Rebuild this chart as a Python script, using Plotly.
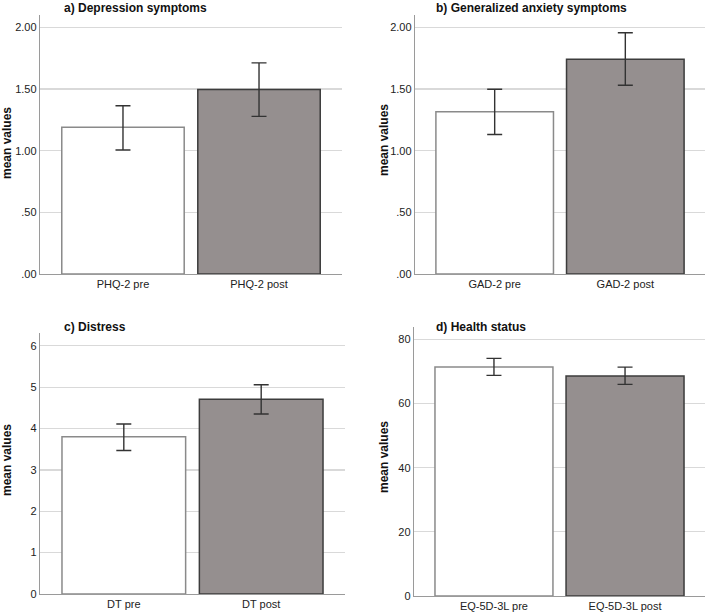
import plotly.graph_objects as go

W, H = 709, 615

# ---- data ----
titles = ["a) Depression symptoms", "b) Generalized anxiety symptoms", "c) Distress", "d) Health status"]
cats_a = ["PHQ-2 pre", "PHQ-2 post"]
cats_b = ["GAD-2 pre", "GAD-2 post"]
cats_c = ["DT pre", "DT post"]
cats_d = ["EQ-5D-3L pre", "EQ-5D-3L post"]

mean_a = [1.19, 1.495]
lo_a = [1.006, 1.278]
hi_a = [1.364, 1.712]

mean_b = [1.315, 1.742]
lo_b = [1.131, 1.531]
hi_b = [1.498, 1.956]

mean_c = [3.80, 4.71]
lo_c = [3.47, 4.35]
hi_c = [4.11, 5.06]

mean_d = [71.4, 68.6]
lo_d = [68.8, 66.0]
hi_d = [74.1, 71.4]

ticks_top = [0, 0.5, 1.0, 1.5, 2.0]
ticktext_top = [".00", ".50", "1.00", "1.50", "2.00"]
ticks_c = [0, 1, 2, 3, 4, 5, 6]
ticks_d = [0, 20, 40, 60, 80]

panels = [
    dict(cats=cats_a, mean=mean_a, lo=lo_a, hi=hi_a, yr=[0, 2.1], tv=ticks_top, tt=ticktext_top,
         px=(40, 342), py=(15, 274)),
    dict(cats=cats_b, mean=mean_b, lo=lo_b, hi=hi_b, yr=[0, 2.1], tv=ticks_top, tt=ticktext_top,
         px=(415, 705), py=(15, 274)),
    dict(cats=cats_c, mean=mean_c, lo=lo_c, hi=hi_c, yr=[0, 6.31], tv=ticks_c, tt=[str(v) for v in ticks_c],
         px=(40, 345), py=(333, 594)),
    dict(cats=cats_d, mean=mean_d, lo=lo_d, hi=hi_d, yr=[0, 83.9], tv=ticks_d, tt=[str(v) for v in ticks_d],
         px=(414, 705), py=(327, 596)),
]
title_pos = [(62, 8), (434, 8), (62, 327), (434, 327)]
ylab_pos = [(7, 143), (384, 140), (7, 460), (384, 457)]

FONT = "Liberation Sans, Arial, sans-serif"
fig = go.Figure()
layout = dict(template="none", width=W, height=H, margin=dict(l=0, r=0, t=0, b=0, pad=0),
              paper_bgcolor="white", plot_bgcolor="white", showlegend=False,
              font=dict(family=FONT, size=11, color="#222"), bargap=0.1)
annotations = []

for i, p in enumerate(panels):
    k = "" if i == 0 else str(i + 1)
    fig.add_trace(go.Bar(
        x=p["cats"], y=p["mean"], xaxis="x" + k, yaxis="y" + k, width=0.9,
        marker=dict(color=["#ffffff", "#958f8f"],
                    line=dict(color=["#8a8a8a", "#3c3c3c"], width=1.5)),
        error_y=dict(type="data", symmetric=False,
                     array=[h - m for h, m in zip(p["hi"], p["mean"])],
                     arrayminus=[m - l for m, l in zip(p["mean"], p["lo"])],
                     color="#333333", thickness=1.4, width=7.5),
    ))
    x0, x1 = p["px"]
    y0, y1 = p["py"]
    layout["xaxis" + k] = dict(domain=[x0 / W, x1 / W], anchor="y" + k, range=[-0.61, 1.61],
                               automargin=False,
                               showline=True, linecolor="#9a9a9a", linewidth=1.2,
                               showgrid=False, ticks="", zeroline=False,
                               tickfont=dict(size=11, color="#222"), fixedrange=True)
    layout["yaxis" + k] = dict(domain=[1 - y1 / H, 1 - y0 / H], anchor="x" + k, range=p["yr"],
                               automargin=False,
                               tickvals=p["tv"], ticktext=p["tt"],
                               showline=True, linecolor="#9a9a9a", linewidth=1.2,
                               showgrid=True, gridcolor="#d9d9d9", gridwidth=1.2,
                               zeroline=False, ticks="", tickfont=dict(size=11, color="#222"))
    tx, ty = title_pos[i]
    annotations.append(dict(text="<b>" + titles[i] + "</b>", x=tx / W, y=1 - ty / H, xref="paper", yref="paper",
                            xanchor="left", yanchor="middle", showarrow=False,
                            font=dict(size=12, color="#111", family=FONT)))
    lx, ly = ylab_pos[i]
    annotations.append(dict(text="<b>mean values</b>", x=lx / W, y=1 - ly / H, xref="paper", yref="paper",
                            xanchor="center", yanchor="middle", textangle=-90, showarrow=False,
                            font=dict(size=12, color="#111", family=FONT)))

layout["annotations"] = annotations
fig.update_layout(**layout)
fig.write_html("out.html", config={"displayModeBar": False, "staticPlot": True},
               post_script="document.body.style.margin='0';document.body.style.overflow='hidden';")
